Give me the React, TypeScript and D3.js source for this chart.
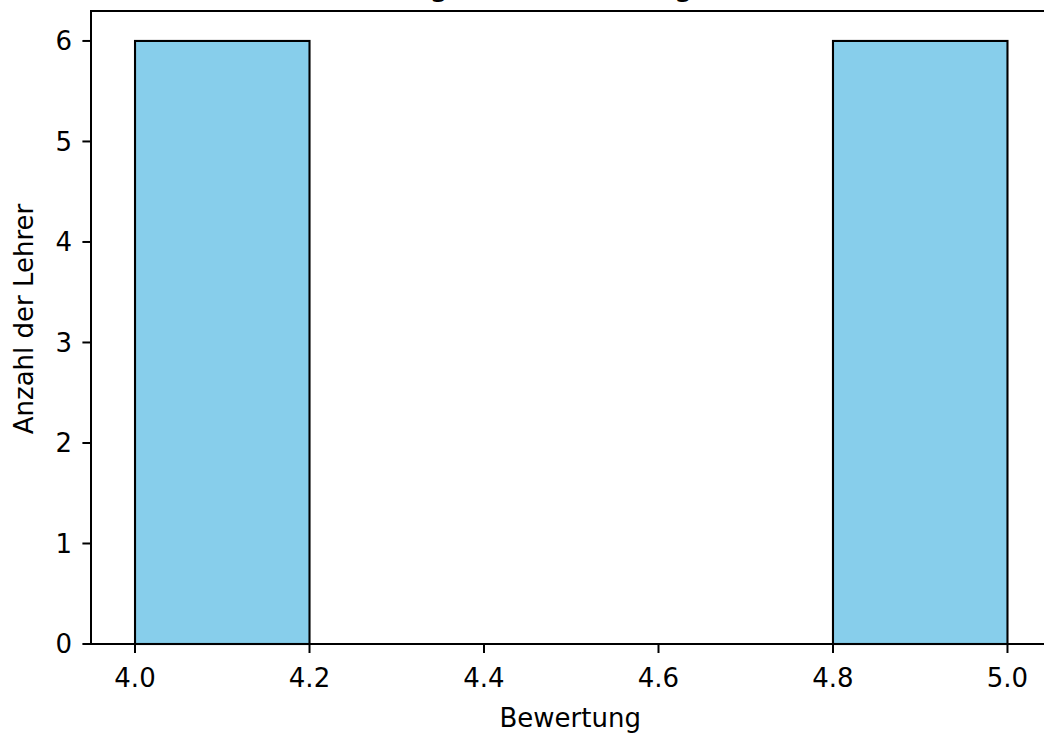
import React from "react";
import * as d3 from "d3";

const binEdges = [4.0, 4.2, 4.4, 4.6, 4.8, 5.0];
const binCounts = [6, 0, 0, 0, 6];
const xTicks = [4.0, 4.2, 4.4, 4.6, 4.8, 5.0];
const yTicks = [0, 1, 2, 3, 4, 5, 6];
const titleText = "Verteilung der Bewertungen";
const xLabel = "Bewertung";
const yLabel = "Anzahl der Lehrer";

const W = 1044;
const H = 738;
const FONT = "DejaVu Sans, sans-serif";

export default function App() {
  const x = d3.scaleLinear().domain([3.95, 5.05]).range([91.4, 1051.1]);
  const y = d3.scaleLinear().domain([0, 6.3]).range([644, 10.8]);
  const left = x.range()[0];
  const right = x.range()[1];
  const top = y.range()[1];
  const bottom = y.range()[0];
  const bins = binCounts.map((c, i) => ({ x0: binEdges[i], x1: binEdges[i + 1], c }));
  const fmt = d3.format(".1f");

  return (
    <svg
      width={W}
      height={H}
      style={{ position: "absolute", left: 0, top: 0, background: "#fff" }}
      fontFamily={FONT}
    >
      <rect x={0} y={0} width={W} height={H} fill="#fff" />
      {/* title, mostly clipped above the image */}
      <text x={288} y={-4.8} fontSize={31.6} fill="#000">
        {titleText}
      </text>
      {/* bars */}
      {bins.map((b, i) => (
        <rect
          key={i}
          x={x(b.x0)}
          y={y(b.c)}
          width={x(b.x1) - x(b.x0)}
          height={bottom - y(b.c)}
          fill="#87CEEB"
          stroke="#000"
          strokeWidth={2.1}
        />
      ))}
      {/* spines */}
      <rect
        x={left}
        y={top}
        width={right - left}
        height={bottom - top}
        fill="none"
        stroke="#000"
        strokeWidth={2}
        shapeRendering="crispEdges"
      />
      {/* x ticks */}
      {xTicks.map((t) => (
        <g key={"x" + t}>
          <line x1={x(t)} x2={x(t)} y1={bottom} y2={bottom + 9} stroke="#000" strokeWidth={2} />
          <text x={x(t)} y={687} fontSize={26} textAnchor="middle" fill="#000">
            {fmt(t)}
          </text>
        </g>
      ))}
      {/* y ticks */}
      {yTicks.map((t) => (
        <g key={"y" + t}>
          <line x1={left - 9} x2={left} y1={y(t)} y2={y(t)} stroke="#000" strokeWidth={2} />
          <text x={72} y={y(t)} dy="0.36em" fontSize={26} textAnchor="end" fill="#000">
            {t}
          </text>
        </g>
      ))}
      {/* axis labels */}
      <text x={(left + right) / 2 - 1} y={727} fontSize={26} textAnchor="middle" fill="#000">
        {xLabel}
      </text>
      <text
        transform={`translate(33, 319) rotate(-90)`}
        fontSize={26}
        textAnchor="middle"
        fill="#000"
      >
        {yLabel}
      </text>
    </svg>
  );
}
